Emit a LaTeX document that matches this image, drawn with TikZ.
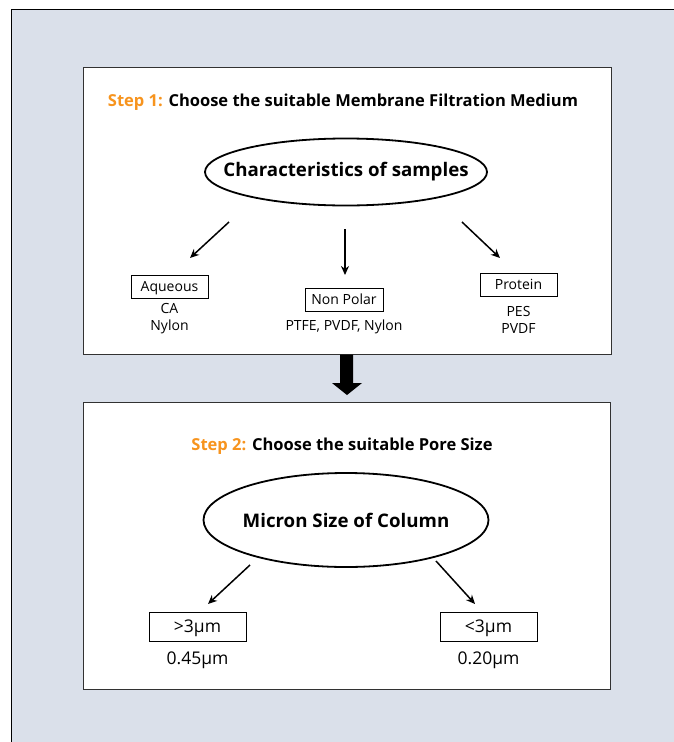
\documentclass[tikz,border=0pt]{standalone}
\usepackage{fontspec}
\setmainfont{Open Sans}
\usetikzlibrary{shapes.geometric,arrows.meta}
\definecolor{bgblue}{RGB}{218,224,234}
\definecolor{steporange}{RGB}{247,148,30}
\definecolor{boxgray}{RGB}{50,50,50}
\tikzset{
  panel/.style={draw=boxgray, line width=1.2pt, fill=white},
  oval/.style={ellipse, draw=black, line width=1.8pt, inner sep=0pt},
  tag/.style={draw=black, line width=0.9pt, inner sep=0pt, font=\fontsize{14}{16}\selectfont, text height=10pt, text depth=1pt},
  sub/.style={font=\fontsize{14}{17}\selectfont, align=center, inner sep=0pt},
  bigtag/.style={draw=black, line width=0.9pt, inner sep=0pt, font=\fontsize{17.5}{20}\selectfont, text height=12pt, text depth=0pt},
  bigsub/.style={font=\fontsize{17.5}{20}\selectfont, inner sep=0pt},
  title/.style={font=\fontsize{16.5}{19}\selectfont\bfseries, inner sep=0pt},
  ovaltext/.style={font=\fontsize{18.7}{21}\selectfont\bfseries, inner sep=0pt},
  conn/.style={line width=1.5pt, -{Stealth[length=9pt,width=8pt]}},
}
\begin{document}
\begin{tikzpicture}[x=1pt,y=-1pt]
\useasboundingbox (0,0) rectangle (674,742);
% outer frame
\fill[bgblue] (11,9) rectangle (674,742);
\draw[line width=1pt, black] (11,742) -- (11,9) -- (674,9);
% panels
\node[panel, minimum width=528, minimum height=287, anchor=north west] (p1) at (83,67) {};
\node[panel, minimum width=527, minimum height=287, anchor=north west] (p2) at (83,402) {};
% big arrow
\fill[black] (340,354.6) -- (353,354.6) -- (353,383) -- (362,383) -- (347,395) -- (332,383) -- (340,383) -- cycle;
% step 1
\node[title] (t1) at (343,102) {\textcolor{steporange}{Step 1:} Choose the suitable Membrane Filtration Medium};
\node[oval, minimum width=282, minimum height=67] (e1) at (346,172) {};
\node[ovaltext] (e1t) at (346,172) {Characteristics of samples};
\node[tag, minimum width=77, minimum height=23] (aq) at (169.5,286.5) {Aqueous};
\node[sub] (aqs) at (169.5,319) {CA\\Nylon};
\node[tag, minimum width=78, minimum height=23] (np) at (344,299.5) {Non Polar};
\node[sub] (nps) at (344,327) {PTFE, PVDF, Nylon};
\node[tag, minimum width=77, minimum height=23] (pr) at (518.5,284.5) {Protein};
\node[sub] (prs) at (518.5,319.5) {PES\\PVDF};
\coordinate (a1s) at (229,222); \coordinate (a1e) at (190,258);
\coordinate (a2s) at (345,229); \coordinate (a2e) at (345,275);
\coordinate (a3s) at (462,222); \coordinate (a3e) at (500,258);
\draw[conn] (a1s) -- (a1e);
\draw[conn] (a2s) -- (a2e);
\draw[conn] (a3s) -- (a3e);
% step 2
\node[title] (t2) at (342,446) {\textcolor{steporange}{Step 2:} Choose the suitable Pore Size};
\node[oval, minimum width=285, minimum height=94] (e2) at (346,520) {};
\node[ovaltext] (e2t) at (346,520) {Micron Size of Column};
\node[bigtag, minimum width=97, minimum height=29] (big) at (197.5,626.5) {>3µm};
\node[bigsub] (bigs) at (197.5,660) {0.45µm};
\node[bigtag, minimum width=97, minimum height=29] (small) at (488.5,626.5) {<3µm};
\node[bigsub] (smalls) at (488.5,660) {0.20µm};
\coordinate (b1s) at (250,565); \coordinate (b1e) at (208,604);
\coordinate (b2s) at (436,561); \coordinate (b2e) at (475,604);
\draw[conn] (b1s) -- (b1e);
\draw[conn] (b2s) -- (b2e);
\end{tikzpicture}
\end{document}
